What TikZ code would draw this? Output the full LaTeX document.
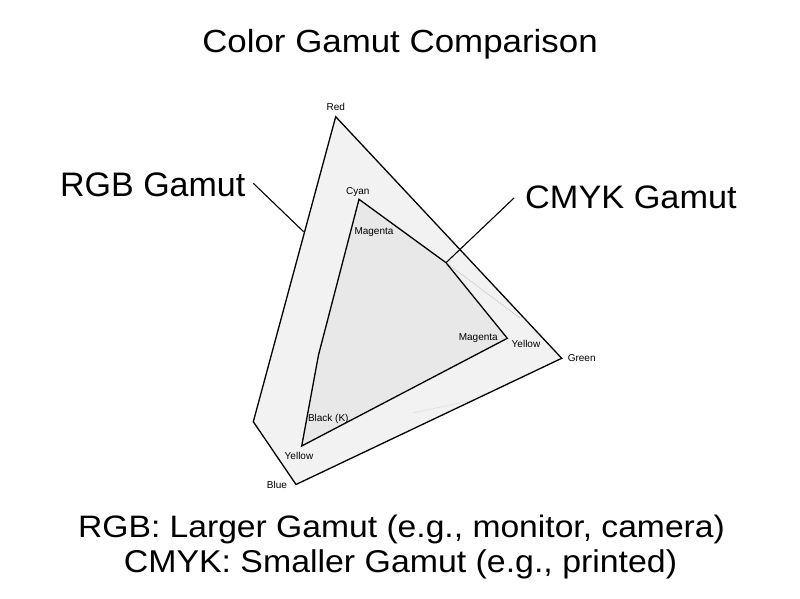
\documentclass[tikz,border=0pt]{standalone}
\usepackage{fontspec}
\setmainfont{Liberation Sans}
\begin{document}
\begin{tikzpicture}[x=1pt,y=-1pt,
  edge/.style={draw=black,line width=1.3pt,line join=miter},
  leader/.style={draw=black,line width=1.1pt},
  small/.style={font=\fontsize{10}{12}\selectfont,inner sep=0pt,anchor=base},
  big/.style={inner sep=0pt}]
\useasboundingbox[fill=white] (0,0) rectangle (800,599);
% outer (RGB) vertices
\coordinate (R) at (335.7,116.7);
\coordinate (L) at (253.3,421.7);
\coordinate (B) at (296,484.5);
\coordinate (G) at (561.7,358.3);
% inner (CMYK) vertices
\coordinate (C) at (359,199.3);
\coordinate (M) at (446,262.7);
\coordinate (Y) at (507.3,338.3);
\coordinate (K) at (301.7,446);
\coordinate (Kk) at (318.5,355);
% leader ends
\coordinate (rgbA) at (253.3,183.3);
\coordinate (rgbB) at (303.6,231.7);
\coordinate (cmykA) at (514,198);
% fills
\fill[fill=black!5] (R) -- (L) -- (B) -- (G) -- cycle;
\fill[fill=black!9] (C) -- (M) -- (Y) -- (K) -- (Kk) -- cycle;
\draw[black!20,line width=0.6pt] (M) -- (520,318);
\draw[black!12,line width=0.6pt] (413,413) -- (473,400);
\draw[edge] (R) -- (L) -- (B) -- (G) -- cycle;
\draw[edge] (C) -- (M) -- (Y) -- (K) -- (Kk) -- cycle;
\draw[leader] (rgbA) -- (rgbB);
\draw[leader] (cmykA) -- (M);
% small labels
\node[small] (lred) at (335.7,110.3) {Red};
\node[small] (lcyan) at (357.7,194.3) {Cyan};
\node[small] (lmag1) at (374,234.6) {Magenta};
\node[small] (lmag2) at (478.3,340.3) {Magenta};
\node[small] (lyel1) at (526,347.3) {Yellow};
\node[small] (lgreen) at (581.7,361.9) {Green};
\node[small] (lblack) at (328.3,421.3) {Black (K)};
\node[small] (lyel2) at (299,459.6) {Yellow};
\node[small] (lblue) at (277,488.6) {Blue};
% big texts
\node[big,anchor=base] (title) at (400,53) {\fontsize{32}{38}\selectfont\scalebox{1.09}[1]{Color Gamut Comparison}};
\node[big,anchor=base west] (rgb) at (60,196.7) {\fontsize{34}{40}\selectfont RGB Gamut};
\node[big,anchor=base west] (cmyk) at (525,208.3) {\fontsize{32.5}{38}\selectfont\scalebox{1.055}[1]{CMYK Gamut}};
\node[big,anchor=base] (line1) at (401.5,537.3) {\fontsize{31}{36}\selectfont\scalebox{1.085}[1]{RGB: Larger Gamut (e.g., monitor, camera)}};
\node[big,anchor=base] (line2) at (400.5,572.7) {\fontsize{31.5}{36}\selectfont\scalebox{1.075}[1]{CMYK: Smaller Gamut (e.g., printed)}};
\end{tikzpicture}
\end{document}
